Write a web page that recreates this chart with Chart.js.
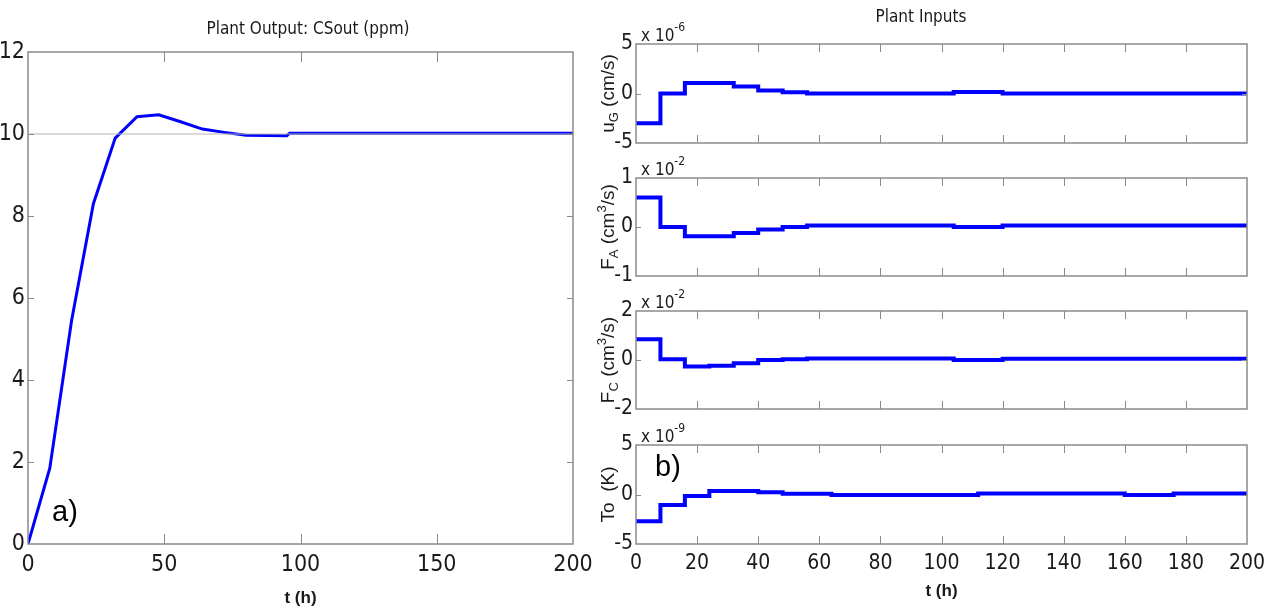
<!DOCTYPE html>
<html>
<head>
<meta charset="utf-8">
<script src="https://cdn.jsdelivr.net/npm/chart.js@4.4.1/dist/chart.umd.min.js"></script>
<style>
  html, body { margin: 0; padding: 0; background: #fff; width: 1273px; height: 609px; overflow: hidden; }
  canvas { position: absolute; left: 0; top: 0; }
</style>
</head>
<body>
<canvas id="cOut" width="1273" height="609"></canvas>
<canvas id="cUG" width="1273" height="609"></canvas>
<canvas id="cFA" width="1273" height="609"></canvas>
<canvas id="cFC" width="1273" height="609"></canvas>
<canvas id="cTo" width="1273" height="609"></canvas>
<script>
// a) plant output, CSout (ppm), read every 8 h
const tOut = [0, 8, 16, 24, 32, 40, 48, 56, 64, 72, 80, 95, 96, 200];
const csOut = [0, 1.85, 5.45, 8.3, 9.9, 10.42, 10.47, 10.3, 10.12, 10.04, 9.97, 9.96, 10.02, 10.02];
const tSet = [0, 200];
const setpoint = [10, 10];

// b) plant inputs, held between samples (value starts at each time)
const tUG = [0, 8, 16, 32, 40, 48, 56, 104, 120, 200];
const uG = [-3, 0, 1.05, 0.7, 0.3, 0.12, 0, 0.15, 0, 0];          // x 1e-6
const tFA = [0, 8, 16, 32, 40, 48, 56, 104, 120, 200];
const fA = [0.6, 0, -0.19, -0.12, -0.05, 0, 0.03, 0, 0.03, 0.03];  // x 1e-2
const tFC = [0, 8, 16, 24, 32, 40, 48, 56, 104, 120, 200];
const fC = [0.85, 0.03, -0.27, -0.23, -0.13, 0, 0.03, 0.06, 0, 0.05, 0.05]; // x 1e-2
const tTo = [0, 8, 16, 24, 40, 48, 64, 112, 160, 176, 200];
const to = [-2.7, -1.05, -0.15, 0.35, 0.22, 0.08, -0.06, 0.1, -0.06, 0.1, 0.1]; // x 1e-9

// tick labels
const xTicksOut = [0, 50, 100, 150, 200];
const yTicksOut = [0, 2, 4, 6, 8, 10, 12];
const xTicksIn = [0, 20, 40, 60, 80, 100, 120, 140, 160, 180, 200];
const yTicksUG = [-5, 0, 5];
const yTicksFA = [-1, 0, 1];
const yTicksFC = [-2, 0, 2];
const yTicksTo = [-5, 0, 5];

const NARROW = "'Liberation Sans Narrow', 'DejaVu Sans Condensed', 'Liberation Sans', Arial, sans-serif";
const SANS = "'Liberation Sans', Arial, sans-serif";
const INK = '#1a1a1a';
const BOX = '#8a8a8a';

function pts(xs, ys) {
  return xs.map((x, i) => ({ x: x, y: ys[i] }));
}

function drawRich(ctx, parts, x, y, rotate) {
  ctx.save();
  ctx.translate(x, y);
  if (rotate) ctx.rotate(-Math.PI / 2);
  ctx.textBaseline = 'alphabetic';
  ctx.textAlign = 'left';
  ctx.fillStyle = INK;
  const w = parts.map(p => { ctx.font = p.font; return ctx.measureText(p.text).width; });
  let cx = rotate ? -w.reduce((a, b) => a + b, 0) / 2 : 0;
  parts.forEach((p, i) => {
    ctx.font = p.font;
    ctx.fillText(p.text, cx, p.dy || 0);
    cx += w[i];
  });
  ctx.restore();
}

// matlab-like box with inward ticks plus loose texts
const frame = {
  id: 'frame',
  afterDatasetsDraw(chart, args, o) {
    const ctx = chart.ctx;
    const a = chart.chartArea;
    const sx = chart.scales.x, sy = chart.scales.y;
    ctx.save();
    ctx.strokeStyle = BOX;
    ctx.lineWidth = 1;
    ctx.beginPath();
    sx.ticks.forEach(t => {
      if (t.value <= sx.min || t.value >= sx.max) return;
      const px = Math.round(sx.getPixelForValue(t.value)) + 0.5;
      ctx.moveTo(px, a.bottom); ctx.lineTo(px, a.bottom - o.tx);
      ctx.moveTo(px, a.top); ctx.lineTo(px, a.top + o.tx);
    });
    sy.ticks.forEach(t => {
      if (t.value <= sy.min || t.value >= sy.max) return;
      const py = Math.round(sy.getPixelForValue(t.value)) + 0.5;
      ctx.moveTo(a.left, py); ctx.lineTo(a.left + o.ty, py);
      ctx.moveTo(a.right, py); ctx.lineTo(a.right - o.ty, py);
    });
    ctx.stroke();
    ctx.lineWidth = 1.5;
    ctx.strokeRect(a.left, a.top, a.right - a.left, a.bottom - a.top);
    ctx.restore();
  },
  afterDraw(chart, args, o) {
    const ctx = chart.ctx;
    const a = chart.chartArea;
    if (o.title) {
      ctx.save();
      ctx.font = '17px ' + NARROW;
      ctx.fillStyle = INK;
      ctx.textAlign = 'center';
      ctx.textBaseline = 'middle';
      ctx.fillText(o.title.text, o.title.x, o.title.y);
      ctx.restore();
    }
    if (o.letter) {
      ctx.save();
      ctx.font = '29px ' + SANS;
      ctx.fillStyle = '#000';
      ctx.textAlign = 'left';
      ctx.textBaseline = 'middle';
      ctx.fillText(o.letter.text, o.letter.x, o.letter.y);
      ctx.restore();
    }
    if (o.exp) {
      drawRich(ctx, [
        { text: 'x 10', font: '17px ' + NARROW },
        { text: o.exp, font: '12px ' + NARROW, dy: -10 }
      ], a.left + 5, a.top - 3, false);
    }
    if (o.ylabel) {
      drawRich(ctx, o.ylabel, 614, (a.top + a.bottom) / 2, true);
    }
  }
};
Chart.register(frame);

function makeChart(id, area, series, opt) {
  const W = 1273, H = 609;
  const yW = opt.yWidth, xH = opt.xHeight;
  const datasets = series.map(s => ({
    data: s.data,
    borderColor: s.color || '#0000ff',
    borderWidth: s.width || 4,
    stepped: s.stepped || false,
    pointRadius: 0,
    tension: 0,
    fill: false
  }));
  return new Chart(document.getElementById(id).getContext('2d'), {
    type: 'line',
    data: { datasets: datasets },
    options: {
      responsive: false,
      animation: false,
      devicePixelRatio: 1,
      events: [],
      layout: {
        padding: {
          left: area.left - yW,
          top: area.top,
          right: W - area.right,
          bottom: H - area.bottom - xH
        }
      },
      plugins: {
        legend: { display: false },
        tooltip: { enabled: false },
        frame: opt.frame
      },
      scales: {
        x: {
          type: 'linear',
          min: 0,
          max: 200,
          afterBuildTicks: s => { s.ticks = opt.xTicks.map(v => ({ value: v })); },
          afterFit: s => { s.height = xH; },
          grid: { display: false, drawTicks: false },
          border: { display: false },
          ticks: {
            display: opt.xLabels,
            autoSkip: false,
            maxRotation: 0,
            padding: 7,
            color: INK,
            font: { family: NARROW, size: opt.tickSize }
          },
          title: {
            display: opt.xLabels,
            text: 't (h)',
            color: INK,
            font: { family: SANS, size: 17, weight: 'bold' },
            padding: { top: 0, bottom: opt.titlePad }
          }
        },
        y: {
          type: 'linear',
          min: opt.yTicks[0],
          max: opt.yTicks[opt.yTicks.length - 1],
          afterBuildTicks: s => { s.ticks = opt.yTicks.map(v => ({ value: v })); },
          afterFit: s => { s.width = yW; },
          grid: { display: false, drawTicks: false },
          border: { display: false },
          ticks: {
            autoSkip: false,
            padding: 3,
            color: INK,
            font: { family: NARROW, size: opt.tickSize }
          }
        }
      }
    }
  });
}

// a) output
makeChart('cOut', { left: 28, top: 52, right: 573, bottom: 544 }, [
  { data: pts(tSet, setpoint), color: '#b4b4b4', width: 1 },
  { data: pts(tOut, csOut), color: '#0000ff', width: 3 }
], {
  yWidth: 28, xHeight: 65, xLabels: true, tickSize: 23, titlePad: 0,
  xTicks: xTicksOut, yTicks: yTicksOut,
  frame: {
    tx: 10, ty: 6,
    title: { text: 'Plant Output: CSout (ppm)', x: 308, y: 30 },
    letter: { text: 'a)', x: 52, y: 513 }
  }
});

// b) inputs
const lab = '19px ' + SANS;
const sub = '13px ' + SANS;
const panels = [
  { id: 'cUG', top: 44, bottom: 143, t: tUG, v: uG, yt: yTicksUG, exp: '-6',
    ylabel: [{ text: 'u', font: lab }, { text: 'G', font: sub, dy: 4 }, { text: ' (cm/s)', font: lab }],
    title: { text: 'Plant Inputs', x: 921, y: 18 } },
  { id: 'cFA', top: 178, bottom: 276, t: tFA, v: fA, yt: yTicksFA, exp: '-2',
    ylabel: [{ text: 'F', font: lab }, { text: 'A', font: sub, dy: 4 }, { text: ' (cm', font: lab }, { text: '3', font: sub, dy: -8 }, { text: '/s)', font: lab }] },
  { id: 'cFC', top: 311, bottom: 409, t: tFC, v: fC, yt: yTicksFC, exp: '-2',
    ylabel: [{ text: 'F', font: lab }, { text: 'C', font: sub, dy: 4 }, { text: ' (cm', font: lab }, { text: '3', font: sub, dy: -8 }, { text: '/s)', font: lab }] },
  { id: 'cTo', top: 445, bottom: 544, t: tTo, v: to, yt: yTicksTo, exp: '-9',
    ylabel: [{ text: 'To  (K)', font: lab }],
    letter: { text: 'b)', x: 655, y: 468 }, last: true }
];

panels.forEach(p => {
  makeChart(p.id, { left: 636, top: p.top, right: 1247, bottom: p.bottom }, [
    { data: pts(p.t, p.v), color: '#0000ff', width: 4, stepped: true }
  ], {
    yWidth: 40, xHeight: p.last ? 65 : 0, xLabels: !!p.last, tickSize: 21, titlePad: 7,
    xTicks: xTicksIn, yTicks: p.yt,
    frame: { tx: 8, ty: 5, exp: p.exp, ylabel: p.ylabel, title: p.title, letter: p.letter }
  });
});
</script>
</body>
</html>
